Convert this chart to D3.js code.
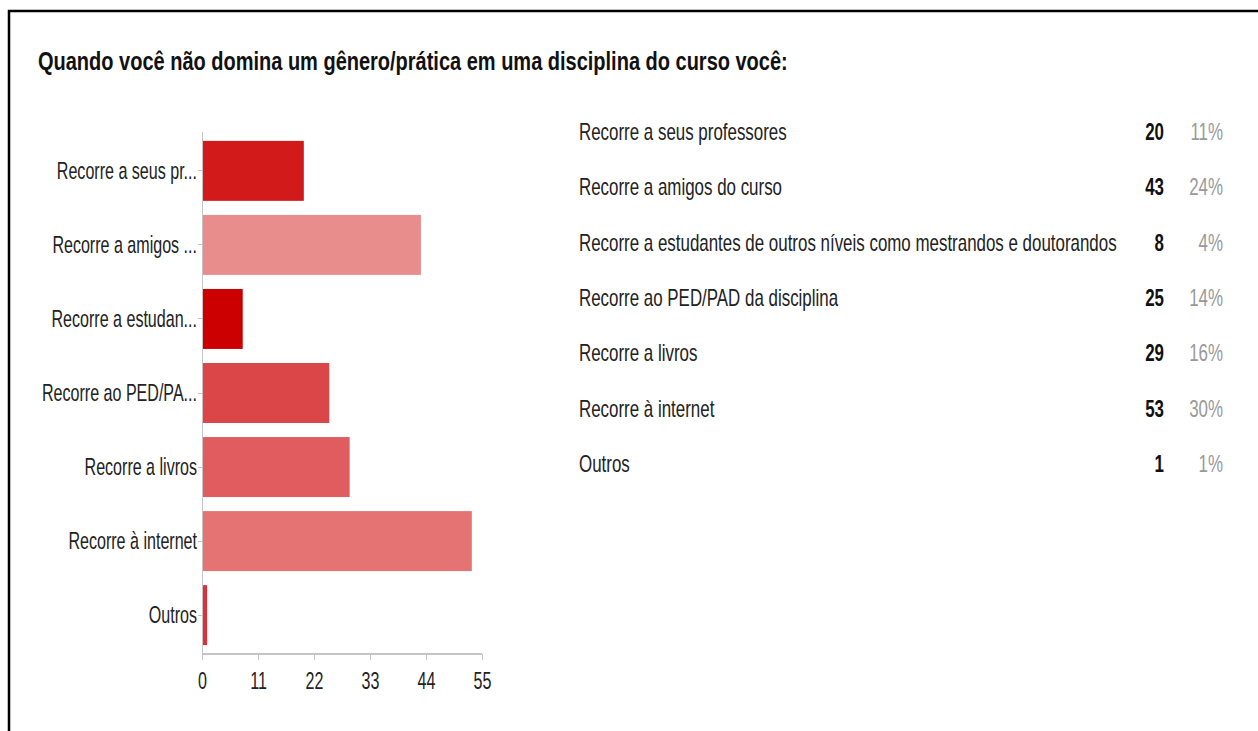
<!DOCTYPE html>
<html lang="pt">
  <head>
    <meta charset="utf-8">
    <title>Quando você não domina um gênero/prática</title>
    <script src="https://d3js.org/d3.v7.min.js"></script>
    <style>
      body { margin: 0; background: #fff; }
      text { font-family: "Liberation Sans", Arial, sans-serif; }
      .axis path, .axis line { stroke: #c4c4c4; shape-rendering: crispEdges; }
      .axis text { fill: #222; font-size: 24px; }
    </style>
  </head>
  <body>
    <script>
      // data
      var shortLabels = ["Recorre a seus pr...", "Recorre a amigos ...", "Recorre a estudan...",
                         "Recorre ao PED/PA...", "Recorre a livros", "Recorre à internet", "Outros"];
      var fullLabels = ["Recorre a seus professores", "Recorre a amigos do curso",
                        "Recorre a estudantes de outros níveis como mestrandos e doutorandos",
                        "Recorre ao PED/PAD da disciplina", "Recorre a livros", "Recorre à internet", "Outros"];
      var counts = [20, 43, 8, 25, 29, 53, 1];
      var percents = ["11%", "24%", "4%", "14%", "16%", "30%", "1%"];
      var xTicks = [0, 11, 22, 33, 44, 55];
      var barColors = ["#d31a1a", "#e88c8c", "#cc0000", "#db4649", "#e05c5e", "#e57373", "#de3038"];

      var w = 1258, h = 731;
      // the source image is squeezed sideways, so all text gets narrowed
      var sxTitle = 0.8, sxLabel = 0.67, sxTable = 0.705;

      var svg = d3.select("body").append("svg").attr("width", w).attr("height", h);

      // frame (only top and left edges are in view)
      svg.append("path")
         .attr("d", "M9," + h + "V11H" + w)
         .attr("fill", "none").attr("stroke", "#000").attr("stroke-width", 2.5);

      // helper: text narrowed horizontally around its anchor point
      function squeezed(x, y, str, sx) {
        return svg.append("text")
                  .attr("transform", "translate(" + x + "," + y + ") scale(" + sx + ",1)")
                  .text(str);
      }

      squeezed(38, 70, "Quando você não domina um gênero/prática em uma disciplina do curso você:", sxTitle)
        .attr("font-size", 25).attr("font-weight", "bold").attr("fill", "#111");

      // bar chart
      var plotLeft = 202, plotRight = 482, plotTop = 132, plotBottom = 654;
      var xScale = d3.scaleLinear().domain([0, 55]).range([plotLeft, plotRight]);
      var yScale = d3.scaleBand().domain(shortLabels).range([plotTop, plotBottom])
                     .paddingInner(0.19).paddingOuter(0.12);

      svg.selectAll("rect.bar")
         .data(counts)
         .enter()
         .append("rect")
         .attr("class", "bar")
         .attr("x", xScale(0))
         .attr("y", function(d, i) { return yScale(shortLabels[i]); })
         .attr("width", function(d) { return xScale(d) - xScale(0); })
         .attr("height", yScale.bandwidth())
         .attr("fill", function(d, i) { return barColors[i]; });

      var yAxis = svg.append("g")
         .attr("class", "axis")
         .attr("transform", "translate(" + plotLeft + ",0)")
         .call(d3.axisLeft(yScale).tickSize(4).tickPadding(1));
      yAxis.select(".domain").attr("d", "M0," + plotTop + "V" + plotBottom);
      yAxis.selectAll("text")
           .attr("x", -5 / sxLabel)
           .attr("transform", "scale(" + sxLabel + ",1)");

      var xAxis = svg.append("g")
         .attr("class", "axis")
         .attr("transform", "translate(0," + plotBottom + ")")
         .call(d3.axisBottom(xScale).tickValues(xTicks).tickSize(6).tickPadding(12));
      xAxis.select(".domain").attr("d", "M" + plotLeft + ",0H" + plotRight).attr("stroke-width", 2);
      xAxis.selectAll("text").attr("transform", "scale(" + sxLabel + ",1)");

      // summary table on the right
      var rowY = d3.scalePoint().domain(fullLabels).range([140, 472]);
      fullLabels.forEach(function(lab, i) {
        squeezed(579, rowY(lab), lab, sxTable).attr("font-size", 24).attr("fill", "#222");
        squeezed(1164, rowY(lab), counts[i], sxTable).attr("font-size", 24)
          .attr("font-weight", "bold").attr("text-anchor", "end").attr("fill", "#111");
        squeezed(1223, rowY(lab), percents[i], sxTable).attr("font-size", 24)
          .attr("text-anchor", "end").attr("fill", "#999");
      });
    </script>
  </body>
</html>
